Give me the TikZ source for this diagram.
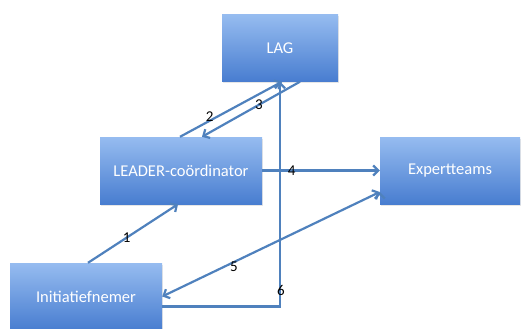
\documentclass[tikz,border=0pt]{standalone}
\usepackage{fontspec}
\setmainfont{Carlito}
\usetikzlibrary{positioning,arrows.meta,shadows}

\definecolor{boxtop}{RGB}{150,188,240}
\definecolor{boxbot}{RGB}{72,125,208}
\definecolor{arrowblue}{RGB}{79,129,189}

\begin{document}
\begin{tikzpicture}[x=1pt,y=-1pt,on grid,
    actor/.style={rectangle,top color=boxtop,bottom color=boxbot,
        minimum height=67pt,inner sep=0pt,text=white,
        font=\fontsize{16.5}{19}\selectfont,
        drop shadow={opacity=0.2,shadow xshift=1pt,shadow yshift=-1.5pt}},
    flow/.style={draw=arrowblue,line width=2.2pt,
        arrows={-Straight Barb[length=5pt,width=10pt]}},
    lbl/.style={text=black,inner sep=0pt,font=\fontsize{15}{17}\selectfont}]
                \useasboundingbox (0,0) rectangle (525,329);
                \node[actor,minimum width=116pt](lag) at (280,48) {LAG};
                \node[actor,minimum width=162pt](leader) [below left=122.5pt and 99pt of lag] {LEADER-coördinator};
                \node[actor,minimum width=140pt](expert) [right=269pt of leader] {Expertteams};
                \node[actor,minimum width=152pt](ini) [below left=126pt and 95pt of leader] {Initiatiefnemer};
                \path[flow]
                ([xshift=2pt]ini.north) edge node[lbl,pos=0.43]{1}([xshift=-3pt]leader.south)
                ([xshift=-1pt]leader.north) edge node[lbl,pos=0.29,yshift=4pt]{2}([xshift=2pt]lag.south)
                ([xshift=20pt]lag.south) edge node[lbl,pos=0.42]{3}([xshift=21pt]leader.north)
                (leader.east) edge node[lbl,pos=0.25]{4}(expert.west)
                ([yshift=-21.5pt]expert.west) edge[arrows={Straight Barb[length=5pt,width=10pt]-Straight Barb[length=5pt,width=10pt]}] node[lbl,pos=0.67,yshift=-5pt]{5}(ini.east);
                \draw[flow] ([yshift=-10pt]ini.east) -| node[lbl,pos=0.535,xshift=1pt]{6} (lag.south);
            \end{tikzpicture}
\end{document}
